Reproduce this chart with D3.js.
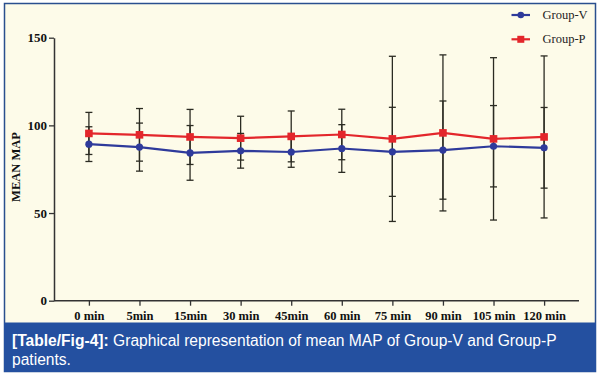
<!DOCTYPE html>
<html><head><meta charset="utf-8">
<script src="https://cdn.jsdelivr.net/npm/d3@7"></script>
<style>body{margin:0;background:#fff}svg{display:block}</style>
</head><body>
<svg id="c" width="600" height="374"></svg>
<script>
const categories = ["0 min","5min","15min","30 min","45min","60 min","75 min","90 min","105 min","120 min"];
const vMean = [89.3, 87.6, 84.3, 85.5, 84.8, 86.8, 84.9, 85.9, 88.1, 87.2];
const vSD   = [9.9, 13.7, 15.6, 9.9, 8.7, 13.6, 25.4, 28.0, 23.2, 23.0];
const pMean = [95.4, 94.6, 93.4, 92.7, 93.7, 94.8, 92.3, 95.7, 92.3, 93.4];
const pSD   = [12.0, 15.0, 15.7, 12.5, 14.5, 14.4, 47.1, 44.5, 46.3, 46.2];
const yTicks = [0, 50, 100, 150];
const seriesNames = ["Group-V", "Group-P"];

const svg = d3.select("#c");
// frame
svg.append("rect").attr("x",4.5).attr("y",3.5).attr("width",591).attr("height",368)
  .attr("fill","#fdfbe9").attr("stroke","#2a4f8f").attr("stroke-width",1.5);

const x = d3.scalePoint().domain(categories).range([54, 579]).padding(0.69);
const y = d3.scaleLinear().domain([0,150]).range([300.7, 37.7]);

const serif = "'Liberation Serif','Times New Roman',serif";

// axes
const gy = svg.append("g").attr("transform","translate(54,0)")
  .call(d3.axisLeft(y).tickValues(yTicks).tickSize(5).tickPadding(2).tickSizeOuter(0));
const gx = svg.append("g").attr("transform","translate(0,300.7)")
  .call(d3.axisBottom(x).tickSize(5).tickPadding(5).tickSizeOuter(0));
[gx, gy].forEach(g=>{
  g.select(".domain").attr("stroke","#333").attr("stroke-width",1.5);
  g.selectAll(".tick line").attr("stroke","#333").attr("stroke-width",1.3);
  g.selectAll("text").attr("fill","#111").attr("font-family",serif).attr("font-weight","bold").attr("font-size","12.5px");
});
gy.selectAll("text").attr("font-size","13px");
gx.select(".domain").attr("d","M54,0H579");

svg.append("text").attr("transform","translate(20,167) rotate(-90)")
  .attr("text-anchor","middle").attr("font-family",serif).attr("font-weight","bold")
  .attr("font-size","12.5px").attr("fill","#111").text("MEAN MAP");

// error bars
const capW = 3.5;
function errBars(means, sds){
  const g = svg.append("g").attr("stroke","#2b2b22").attr("stroke-width",1.3);
  categories.forEach((c,i)=>{
    const cx = x(c), t = y(means[i]+sds[i]), b = y(means[i]-sds[i]);
    g.append("line").attr("x1",cx).attr("x2",cx).attr("y1",t).attr("y2",b);
    g.append("line").attr("x1",cx-capW).attr("x2",cx+capW).attr("y1",t).attr("y2",t);
    g.append("line").attr("x1",cx-capW).attr("x2",cx+capW).attr("y1",b).attr("y2",b);
  });
}
errBars(pMean, pSD);
errBars(vMean, vSD);

const blue = "#2e3a9b", red = "#e3262b";
const line = d3.line().x((d,i)=>x(categories[i])).y(d=>y(d));
svg.append("path").datum(pMean).attr("d",line).attr("fill","none").attr("stroke",red).attr("stroke-width",2.2);
svg.append("path").datum(vMean).attr("d",line).attr("fill","none").attr("stroke",blue).attr("stroke-width",2.2);
svg.append("g").selectAll("rect").data(pMean).join("rect")
  .attr("x",(d,i)=>x(categories[i])-3.8).attr("y",d=>y(d)-3.8).attr("width",7.6).attr("height",7.6).attr("fill",red);
svg.append("g").selectAll("circle").data(vMean).join("circle")
  .attr("cx",(d,i)=>x(categories[i])).attr("cy",d=>y(d)).attr("r",3.6).attr("fill",blue);

// legend
const leg = svg.append("g");
[[blue,15],[red,39.3]].forEach(([col,ly],k)=>{
  leg.append("line").attr("x1",511.5).attr("x2",530).attr("y1",ly).attr("y2",ly).attr("stroke",col).attr("stroke-width",2.2);
  if(k===0) leg.append("circle").attr("cx",520.8).attr("cy",ly).attr("r",3.3).attr("fill",col);
  else leg.append("rect").attr("x",517.3).attr("y",ly-3.5).attr("width",7).attr("height",7).attr("fill",col);
  leg.append("text").attr("x",542.5).attr("y",ly+4).attr("font-family",serif).attr("font-size","12.5px")
    .attr("fill","#222").text(seriesNames[k]);
});

// caption
svg.append("rect").attr("x",4).attr("y",322.5).attr("width",592).attr("height",49.5).attr("fill","#2450a0");
const cap = svg.append("text").attr("x",12).attr("y",345.5).attr("font-family","'Liberation Sans',Arial,sans-serif")
  .attr("font-size","15.6px").attr("fill","#fff");
cap.append("tspan").attr("font-weight","bold").text("[Table/Fig-4]:");
cap.append("tspan").text(" Graphical representation of mean MAP of Group-V and Group-P");
svg.append("text").attr("x",12).attr("y",365).attr("font-family","'Liberation Sans',Arial,sans-serif")
  .attr("font-size","15.6px").attr("fill","#fff").text("patients.");
</script>
</body></html>
